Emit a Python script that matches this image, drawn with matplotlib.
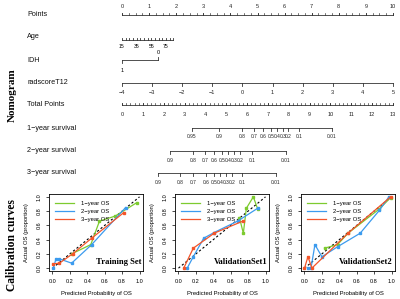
import matplotlib
matplotlib.use('Agg')
import matplotlib.pyplot as plt
import matplotlib.transforms as mtransforms
import numpy as np

# ---- nomogram data (points scale 0-10) ----
points_ticks = np.arange(0, 11, 1)
age_ticks = np.arange(15, 90, 5)
age_labels = [15, 35, 55, 75]
age_pts_per_year = 0.027
idh_levels = ['1', '0']
idh_points = [0.0, 1.33]
rad_ticks = np.arange(-4, 6, 1)
rad_pts_per_unit = 10 / 9
total_ticks = np.arange(0, 14, 1)
total_max = 13

surv_probs_1y = ['0.95', '0.9', '0.8', '0.7', '0.6', '0.5', '0.4', '0.3', '0.2', '0.1', '0.01']
surv_tp_1y = [3.36, 4.65, 5.75, 6.33, 6.76, 7.15, 7.43, 7.72, 7.96, 8.49, 10.07]
surv_probs_23 = ['0.9', '0.8', '0.7', '0.6', '0.5', '0.4', '0.3', '0.2', '0.1', '0.01']
surv_tp_2y = [2.30, 3.41, 3.98, 4.41, 4.80, 5.08, 5.37, 5.66, 6.24, 7.87]
surv_tp_3y = [1.73, 2.78, 3.41, 4.03, 4.41, 4.70, 4.99, 5.28, 5.76, 7.39]

# ---- calibration data ----
train_1y_x = [0.22, 0.44, 0.54, 0.72, 0.97]
train_1y_y = [0.20, 0.33, 0.66, 0.73, 0.92]
train_2y_x = [0.01, 0.04, 0.08, 0.22, 0.45, 0.84]
train_2y_y = [0.00, 0.13, 0.13, 0.07, 0.33, 0.85]
train_3y_x = [0.01, 0.08, 0.23, 0.45, 0.82]
train_3y_y = [0.06, 0.07, 0.20, 0.42, 0.78]

val1_1y_x = [0.70, 0.745, 0.78, 0.86, 0.91]
val1_1y_y = [0.71, 0.49, 0.84, 1.00, 0.83]
val1_2y_x = [0.10, 0.17, 0.29, 0.41, 0.68, 0.91]
val1_2y_y = [0.00, 0.16, 0.42, 0.50, 0.66, 0.84]
val1_3y_x = [0.06, 0.17, 0.41, 0.74]
val1_3y_y = [0.00, 0.28, 0.49, 0.66]

val2_1y_x = [0.23, 0.38, 0.50, 0.86, 0.99]
val2_1y_y = [0.28, 0.33, 0.49, 0.83, 0.99]
val2_2y_x = [0.045, 0.075, 0.12, 0.20, 0.38, 0.64, 0.86, 0.97]
val2_2y_y = [0.00, 0.00, 0.33, 0.16, 0.30, 0.49, 0.81, 1.00]
val2_3y_x = [0.00, 0.04, 0.085, 0.50, 0.99]
val2_3y_y = [0.00, 0.16, 0.00, 0.49, 1.00]

legend_labels = ['1\u2212year OS', '2\u2212year OS', '3\u2212year OS']
colors = ['#7DCB2F', '#3C9BEE', '#F4552A']

W, H = 400, 299
fig = plt.figure(figsize=(W / 100, H / 100), dpi=100)
plt.rcParams['font.family'] = ['Liberation Sans', 'DejaVu Sans']

# nomogram axes: x in points (0-10), y in pixels from top
nax = fig.add_axes([122 / W, (H - 190) / H, 271 / W, 190 / H])
nax.set_xlim(0, 10)
nax.set_ylim(190, 0)
nax.axis('off')
lab_tr = mtransforms.blended_transform_factory(fig.transFigure, nax.transData)

LC = '#333333'
LW = 0.6
FS_T = 4.0


def scale(y, pos, labels, tick_dir, label_y, label_pos=None, minor=None, tlen=2.5, fs=FS_T):
    pos = np.asarray(pos, dtype=float)
    ends = pos if minor is None else np.concatenate([pos, minor])
    nax.plot([ends.min(), ends.max()], [y, y], color=LC, lw=LW, clip_on=False)
    for p in pos:
        nax.plot([p, p], [y, y + tick_dir * tlen], color=LC, lw=LW, clip_on=False)
    if minor is not None:
        for p in minor:
            nax.plot([p, p], [y, y + tick_dir * tlen * 0.7], color=LC, lw=LW * 0.8, clip_on=False)
    if label_pos is None:
        label_pos = pos
    for p, t in zip(label_pos, labels):
        nax.text(p, label_y, t, ha='center', va='center', fontsize=fs, color='#222222', clip_on=False)


def row_label(y, text):
    nax.text(27 / W, y, text, transform=lab_tr, ha='left', va='center', fontsize=5.2, color='#111111')


# Points
row_label(15, 'Points')
scale(15, points_ticks, [str(v) for v in points_ticks], -1, 6,
      minor=np.arange(0, 10.01, 0.25))
# Age
row_label(37, 'Age')
age_pos = (age_ticks - 15) * age_pts_per_year
scale(40, age_pos, [], -1, 47, tlen=2.0)
for a in age_labels:
    nax.text((a - 15) * age_pts_per_year, 47, str(a), ha='center', va='center', fontsize=3.7)
# IDH
row_label(61, 'IDH')
nax.plot(idh_points, [60, 60], color=LC, lw=LW, clip_on=False)
nax.plot([idh_points[0]] * 2, [60, 63], color=LC, lw=LW)
nax.plot([idh_points[1]] * 2, [60, 57], color=LC, lw=LW)
nax.text(idh_points[0], 70, idh_levels[0], ha='center', va='center', fontsize=FS_T)
nax.text(idh_points[1], 52, idh_levels[1], ha='center', va='center', fontsize=FS_T)
# radscore
row_label(83, 'radscoreT12')
scale(83, (rad_ticks + 4) * rad_pts_per_unit, [str(v).replace('-', '\u2212') for v in rad_ticks], 1, 92)
# Total points
row_label(105, 'Total Points')
tp_scale = 10 / total_max
scale(105, total_ticks * tp_scale, [str(v) for v in total_ticks], -1, 114,
      minor=np.arange(0, 13.01, 0.2) * tp_scale, tlen=2.2)
# survival
row_label(128, '1\u2212year survival')
scale(128, np.array(surv_tp_1y) * tp_scale, surv_probs_1y, 1, 137, fs=3.5)
row_label(151, '2\u2212year survival')
scale(151, np.array(surv_tp_2y) * tp_scale, surv_probs_23, 1, 160, fs=3.5)
row_label(173, '3\u2212year survival')
scale(173, np.array(surv_tp_3y) * tp_scale, surv_probs_23, 1, 182, fs=3.5)

fig.text(12 / W, 1 - 95 / H, 'Nomogram', rotation=90, ha='center', va='center',
         fontsize=8, fontweight='bold', family='Liberation Serif')
fig.text(12 / W, 1 - 245 / H, 'Calibration curves', rotation=90, ha='center', va='center',
         fontsize=8.3, fontweight='bold', family='Liberation Serif')

# calibration panels
panels = [
    ('Training Set', [(train_1y_x, train_1y_y), (train_2y_x, train_2y_y), (train_3y_x, train_3y_y)]),
    ('ValidationSet1', [(val1_1y_x, val1_1y_y), (val1_2y_x, val1_2y_y), (val1_3y_x, val1_3y_y)]),
    ('ValidationSet2', [(val2_1y_x, val2_1y_y), (val2_2y_x, val2_2y_y), (val2_3y_x, val2_3y_y)]),
]
for i, (title, series) in enumerate(panels):
    left = 49 + i * 126
    ax = fig.add_axes([left / W, (H - 271) / H, 94 / W, 77 / H])
    ax.plot([0, 1], [0, 1], color='black', lw=0.8, ls=(0, (2, 2)))
    for (xs, ys), c, lab in zip(series, colors, legend_labels):
        ax.plot(xs, ys, color=c, lw=0.9, marker='s', ms=2.0, label=lab)
    ax.set_xlim(-0.04, 1.04)
    ax.set_ylim(-0.04, 1.04)
    ticks = np.arange(0, 1.01, 0.2)
    ax.set_xticks(ticks)
    ax.set_yticks(ticks)
    ax.set_xticklabels(['%.1f' % t for t in ticks], fontsize=4)
    ax.set_yticklabels(['%.1f' % t for t in ticks], fontsize=4, rotation=90, va='center')
    ax.tick_params(length=2.5, width=0.5, pad=3)
    for s in ax.spines.values():
        s.set_linewidth(0.6)
    ax.set_xlabel('Predicted Probability of OS', fontsize=4.2, labelpad=5)
    ax.set_ylabel('Actual OS (proportion)', fontsize=4.2, labelpad=5)
    ax.legend(loc='upper left', frameon=False, fontsize=4.2, handlelength=3.2,
              handletextpad=1.2, labelspacing=0.45, borderaxespad=0.3,
              bbox_to_anchor=(0.02, 0.96))
    for h in ax.get_legend().legend_handles:
        h.set_marker('')
    ax.text(0.98, 0.06, title, transform=ax.transAxes, ha='right', va='bottom',
            fontsize=6.2, fontweight='bold', family='Liberation Serif')

fig.savefig('out.png', dpi=100)
